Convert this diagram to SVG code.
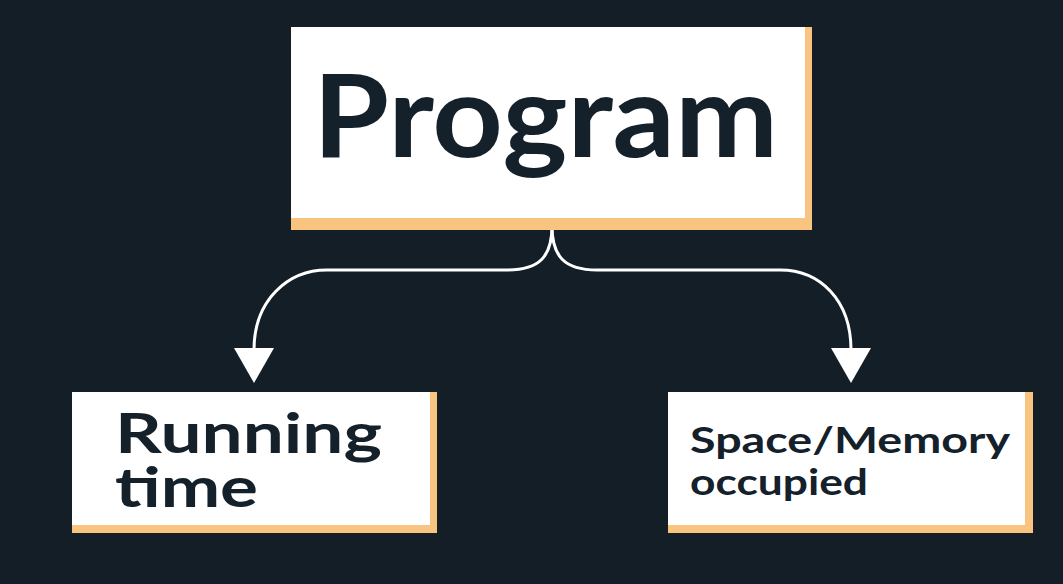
<svg xmlns="http://www.w3.org/2000/svg" width="1063" height="584" viewBox="0 0 1063 584">
<defs>
<style>
.shadow{fill:#f8c47f}
.box{fill:#ffffff}
.t{font-family:Lato,"Open Sans","Liberation Sans",sans-serif;font-weight:700;fill:#14202a}
.conn{fill:none;stroke:#ffffff;stroke-width:3}
.head{fill:#ffffff}
</style>
</defs>
<rect x="0" y="0" width="1063" height="584" fill="#131e26"/>
<g id="connectors">
<path class="conn" d="M552,226 C552,256 540,270 507,270 L327,270 C288,270 254,300 254,350"/>
<path class="conn" d="M552,226 C552,256 564,270 597,270 L780,270 C820,270 851,300 851,350"/>
<polygon class="head" points="234,348 274,348 254,383"/>
<polygon class="head" points="831,348 871,348 851,383"/>
</g>
<g id="node-program">
<rect class="shadow" x="291" y="27" width="521" height="203"/>
<rect class="box" x="291" y="27" width="514" height="191"/>
<text class="t" x="313" y="157" font-size="114" textLength="465" lengthAdjust="spacingAndGlyphs">Program</text>
</g>
<g id="node-running">
<rect class="shadow" x="72" y="392" width="365" height="141"/>
<rect class="box" x="72" y="392" width="358" height="133"/>
<text class="t" x="115" y="453" font-size="56" textLength="267" lengthAdjust="spacingAndGlyphs">Running</text>
<text class="t" x="115" y="507" font-size="56" textLength="143" lengthAdjust="spacingAndGlyphs">time</text>
</g>
<g id="node-space">
<rect class="shadow" x="668" y="392" width="365" height="141"/>
<rect class="box" x="668" y="392" width="357" height="133"/>
<text class="t" x="690" y="453" font-size="37" textLength="320" lengthAdjust="spacingAndGlyphs">Space/Memory</text>
<text class="t" x="690" y="495" font-size="37" textLength="178" lengthAdjust="spacingAndGlyphs">occupied</text>
</g>
</svg>
